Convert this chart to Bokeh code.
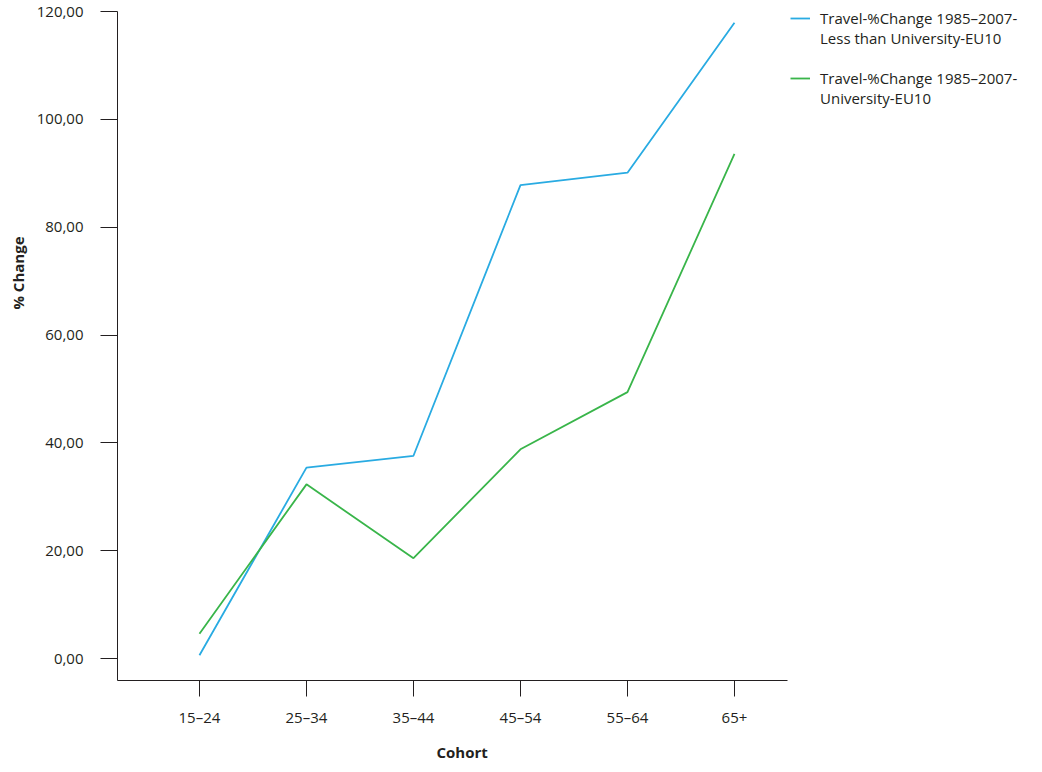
from bokeh.plotting import figure
from bokeh.models import FixedTicker, Range1d, Legend, LegendItem, Title
from bokeh.embed import file_html
from bokeh.resources import INLINE

cohorts = ["15–24", "25–34", "35–44", "45–54", "55–64", "65+"]
less_than_university = [0.6, 35.4, 37.6, 87.8, 90.1, 117.9]
university = [4.6, 32.3, 18.6, 38.8, 49.4, 93.6]
y_ticks = [0, 20, 40, 60, 80, 100, 120]
y_tick_labels = ["0,00", "20,00", "40,00", "60,00", "80,00", "100,00", "120,00"]
series_names = ["Travel-%Change 1985–2007-", "Less than University-EU10",
                "Travel-%Change 1985–2007-", "University-EU10"]

FONT = "Open Sans"
INK = "#231F20"
BLUE = "#29ABE2"
GREEN = "#39B54A"

x = list(range(len(cohorts)))
Y_LO, Y_HI = -4.08, 120.93
X_LO, X_AXIS_END, X_HI = -0.766, 5.5, 7.86

p = figure(width=1040, height=772, output_backend="svg", toolbar_location=None,
           x_range=Range1d(X_LO, X_HI), y_range=Range1d(Y_LO, Y_HI),
           min_border_left=117, min_border_right=0, min_border_top=6,
           min_border_bottom=92)
p.outline_line_color = None
p.xgrid.visible = False
p.ygrid.visible = False
p.background_fill_color = "white"

r1 = p.line(x, less_than_university, line_color=BLUE, line_width=1.8)
r2 = p.line(x, university, line_color=GREEN, line_width=1.8)
d1 = p.line(x, university, line_alpha=0)

for ax in (p.xaxis[0], p.yaxis[0]):
    ax.axis_line_color = INK
    ax.major_tick_line_color = INK
    ax.minor_tick_line_color = None
    ax.major_tick_in = 0
    ax.major_label_text_font = FONT
    ax.major_label_text_font_size = "15px"
    ax.major_label_text_color = INK

p.xaxis.ticker = FixedTicker(ticks=x)
p.xaxis.major_label_overrides = {i: c for i, c in zip(x, cohorts)}
p.xaxis.major_tick_out = 16
p.xaxis.major_label_standoff = 10
p.xaxis.bounds = (X_LO, X_AXIS_END)

p.yaxis.ticker = FixedTicker(ticks=y_ticks)
p.yaxis.major_label_overrides = {t: l for t, l in zip(y_ticks, y_tick_labels)}
p.yaxis.major_tick_out = 17
p.yaxis.major_label_standoff = 17
p.yaxis.bounds = (Y_LO, y_ticks[-1])

legend = Legend(items=[
    LegendItem(label=series_names[0], renderers=[r1]),
    LegendItem(label=series_names[1], renderers=[d1]),
    LegendItem(label=" ", renderers=[d1]),
    LegendItem(label=series_names[2], renderers=[r2]),
    LegendItem(label=series_names[3], renderers=[d1]),
], location=(673, 572), padding=0, margin=0, spacing=0, border_line_color=None,
    background_fill_alpha=0, glyph_width=20, glyph_height=20, label_height=20,
    label_standoff=10, label_text_font=FONT, label_text_font_size="15px",
    label_text_color=INK)
p.add_layout(legend)

p.add_layout(Title(text="% Change", align="right", offset=230, text_font=FONT,
                   text_font_style="bold", text_font_size="15px", text_color=INK,
                   standoff=11), "left")
p.add_layout(Title(text="Cohort", align="left", offset=319, text_font=FONT,
                   text_font_style="bold", text_font_size="15px", text_color=INK,
                   standoff=20), "below")

open("out.html", "w").write(file_html(p, INLINE))
